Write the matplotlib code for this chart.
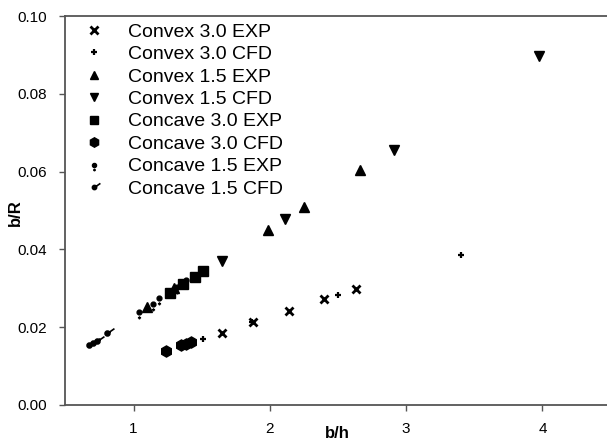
import numpy as np
import matplotlib.pyplot as plt
from matplotlib.path import Path

plt.rcParams['font.family'] = ['Liberation Sans', 'DejaVu Sans']

# data
cvx30_exp_x = [1.647, 1.876, 2.140, 2.397, 2.632]
cvx30_exp_y = [0.0185, 0.0213, 0.0241, 0.0272, 0.0297]
cvx30_cfd_x = [1.512, 1.869, 2.500, 3.400]
cvx30_cfd_y = [0.0170, 0.0213, 0.0282, 0.0385]
cvx15_exp_x = [1.099, 1.297, 1.986, 2.249, 2.661]
cvx15_exp_y = [0.0251, 0.0300, 0.0451, 0.0510, 0.0605]
cvx15_cfd_x = [1.649, 2.111, 2.911, 3.974]
cvx15_cfd_y = [0.0369, 0.0477, 0.0656, 0.0897]
ccv30_exp_x = [1.267, 1.363, 1.451, 1.512]
ccv30_exp_y = [0.0287, 0.0312, 0.0328, 0.0344]
ccv30_cfd_x = [1.238, 1.349, 1.385, 1.422]
ccv30_cfd_y = [0.0139, 0.0153, 0.0158, 0.0163]
ccv15_exp_x = [1.042, 1.140, 1.189, 1.321, 1.385]
ccv15_exp_y = [0.0239, 0.0259, 0.0275, 0.0303, 0.0321]
ccv15_cfd_x = [0.673, 0.703, 0.732, 0.805]
ccv15_cfd_y = [0.0154, 0.0159, 0.0164, 0.0185]

# custom markers: dot with small plus below, dot with short tail
dot_plus = Path.make_compound_path(
    Path.circle((0, 0), 0.45),
    Path([(-0.3, -1.0), (0.3, -1.0)]),
    Path([(0, -1.3), (0, -0.7)]))
dot_tail = Path.make_compound_path(
    Path.circle((0, 0), 0.35),
    Path([(0, 0), (1.0, 0.7)]))

fig = plt.figure(figsize=(6.07, 4.41), dpi=100)
ax = fig.add_axes([65.4 / 607, 36 / 441, 545.2 / 607, 389 / 441])

k = dict(linestyle='none', color='black')
ax.plot(cvx30_exp_x, cvx30_exp_y, marker='x', ms=6, mew=2, label='Convex 3.0 EXP', **k)
ax.plot(cvx30_cfd_x, cvx30_cfd_y, marker='+', ms=5, mew=1.6, label='Convex 3.0 CFD', **k)
ax.plot(cvx15_exp_x, cvx15_exp_y, marker='^', ms=7.5, label='Convex 1.5 EXP', **k)
ax.plot(cvx15_cfd_x, cvx15_cfd_y, marker='v', ms=7.5, label='Convex 1.5 CFD', **k)
ax.plot(ccv30_exp_x, ccv30_exp_y, marker='s', ms=7, label='Concave 3.0 EXP', **k)
ax.plot(ccv30_cfd_x, ccv30_cfd_y, marker='h', ms=8, label='Concave 3.0 CFD', **k)
ax.plot(ccv15_exp_x, ccv15_exp_y, marker=dot_plus, ms=10, mew=1, label='Concave 1.5 EXP', **k)
ax.plot(ccv15_cfd_x, ccv15_cfd_y, marker=dot_tail, ms=10, mew=1.2, label='Concave 1.5 CFD', **k)

ax.set_xlim(0.5, 4.5)
ax.set_ylim(0, 0.10)
ax.set_xticks([1, 2, 3, 4])
ax.set_yticks([0, 0.02, 0.04, 0.06, 0.08, 0.10])
ax.set_yticklabels(['0.00', '0.02', '0.04', '0.06', '0.08', '0.10'])
ax.tick_params(direction='out', length=4, width=1, color='#555555',
               labelsize=11, labelcolor='black')
ax.tick_params(axis='y', pad=9)
ax.tick_params(axis='x', pad=8)
ax.spines['right'].set_visible(False)
for s in ['left', 'top', 'bottom']:
    ax.spines[s].set_color('#555555')
    ax.spines[s].set_linewidth(1.3)

fig.text(337 / 607, 1 - 433 / 441, 'b/h', ha='center', va='center',
         fontsize=12, fontweight='bold')
fig.text(15 / 607, 1 - 213 / 441, 'b/R', ha='center', va='center',
         rotation=90, fontsize=12, fontweight='bold')

leg = ax.legend(loc='upper left', bbox_to_anchor=(84 / 607, 1 - 23 / 441),
                bbox_transform=fig.transFigure, frameon=False, fontsize=14,
                borderpad=0, borderaxespad=0, handlelength=1.0, handletextpad=1.25,
                labelspacing=0.25, markerscale=0.85)

fig.savefig('out.png', dpi=100)
